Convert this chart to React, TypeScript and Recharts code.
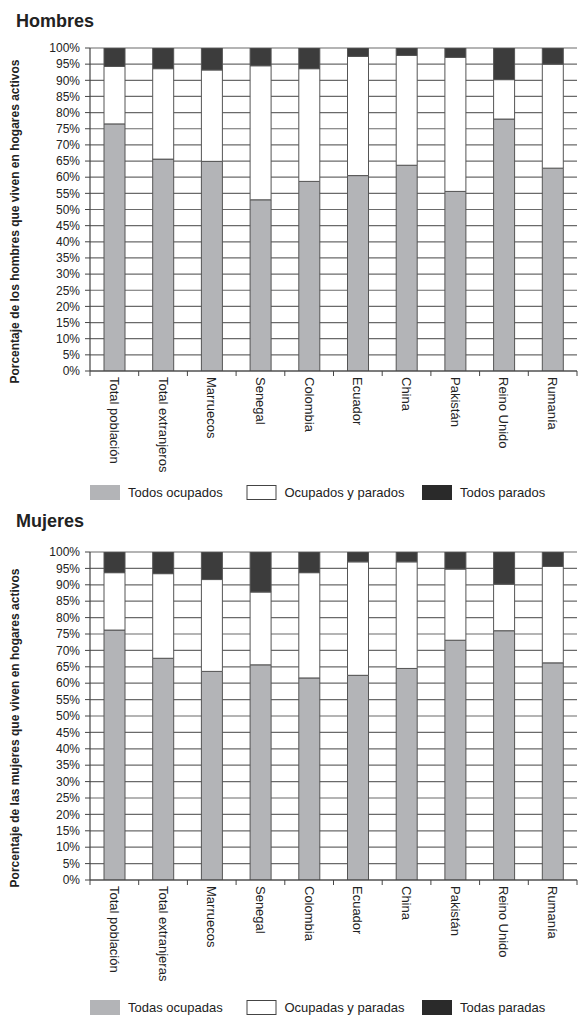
import React from 'react';
import { BarChart, Bar, XAxis, YAxis, CartesianGrid, Label } from 'recharts';

const FONT = '"Liberation Sans", Arial, Helvetica, sans-serif';

// ---------- data ----------
const categoriesHombres = ['Total población', 'Total extranjeros', 'Marruecos', 'Senegal', 'Colombia', 'Ecuador', 'China', 'Pakistán', 'Reino Unido', 'Rumanía'];
const categoriesMujeres = ['Total población', 'Total extranjeras', 'Marruecos', 'Senegal', 'Colombia', 'Ecuador', 'China', 'Pakistán', 'Reino Unido', 'Rumanía'];

const hombresTodosOcupados = [76.5, 65.6, 64.9, 53.0, 58.7, 60.5, 63.7, 55.6, 78.0, 62.8];
const hombresOcupadosParados = [17.8, 28.0, 28.3, 41.5, 34.9, 36.9, 34.0, 41.5, 12.2, 32.2];
const hombresTodosParados = [5.7, 6.4, 6.8, 5.5, 6.4, 2.6, 2.3, 2.9, 9.8, 5.0];

const mujeresTodasOcupadas = [76.2, 67.6, 63.6, 65.6, 61.6, 62.4, 64.5, 73.1, 76.0, 66.2];
const mujeresOcupadasParadas = [17.5, 25.8, 28.0, 22.2, 32.1, 34.6, 32.5, 21.7, 14.2, 29.4];
const mujeresTodasParadas = [6.3, 6.6, 8.4, 12.2, 6.3, 3.0, 3.0, 5.2, 9.8, 4.4];

const yTicks = [0, 5, 10, 15, 20, 25, 30, 35, 40, 45, 50, 55, 60, 65, 70, 75, 80, 85, 90, 95, 100];

const legendHombres = ['Todos ocupados', 'Ocupados y parados', 'Todos parados'];
const legendMujeres = ['Todas ocupadas', 'Ocupadas y paradas', 'Todas paradas'];

// ---------- styles ----------
const BAR_COLORS = ['#b3b4b7', '#ffffff', '#3c3c3c'];
const LEGEND_COLORS = ['#b3b4b7', '#ffffff', '#2a2a2a'];
const LEGEND_X = [90, 246.5, 422];
const PLOT_LEFT = 90;
const PLOT_RIGHT = 577;
const TEXT = '#222';
const LINE = '#444';

type PanelProps = {
  title: string;
  yLabel: string;
  categories: string[];
  a: number[];
  b: number[];
  c: number[];
  names: string[];
  chartHeight: number;
  marginTop: number;
  xAxisHeight: number;
  legendTop: number;
  labelShift: number;
  panelHeight: number;
  top: number;
};

function Panel(p: PanelProps) {
  const data = p.categories.map((name, i) => ({ name, a: p.a[i], b: p.b[i], c: p.c[i] }));
  const band = (PLOT_RIGHT - PLOT_LEFT) / p.categories.length;
  const n = p.categories.length;

  const renderXTick = (props: any) => {
    const { x, y, payload, index } = props;
    const bx = x - band / 2;
    return (
      <g>
        <line x1={bx} x2={bx} y1={y - 6} y2={y - 1} stroke={LINE} strokeWidth={1} />
        {index === n - 1 && (
          <line x1={x + band / 2} x2={x + band / 2} y1={y - 6} y2={y - 1} stroke={LINE} strokeWidth={1} />
        )}
        <text
          x={x}
          y={y}
          transform={`rotate(90 ${x} ${y})`}
          textAnchor="start"
          dominantBaseline="central"
          fontSize={13}
          fontFamily={FONT}
          fill={TEXT}
        >
          {payload.value}
        </text>
      </g>
    );
  };

  const renderYLabel = (lp: any) => {
    const vb = lp.viewBox || { y: p.marginTop, height: 320 };
    const cy = vb.y + vb.height / 2 + p.labelShift;
    return (
      <text
        x={15}
        y={cy}
        transform={`rotate(-90 15 ${cy})`}
        textAnchor="middle"
        dominantBaseline="central"
        fontSize={12}
        fontWeight="bold"
        fontFamily={FONT}
        fill={TEXT}
      >
        {p.yLabel}
      </text>
    );
  };

  return (
    <div style={{ position: 'absolute', left: 0, top: p.top, width: 578, height: p.panelHeight }}>
      <svg width={578} height={40} style={{ position: 'absolute', left: 0, top: 0 }}>
        <text x={16} y={27} fontSize={18} fontWeight="bold" fontFamily={FONT} fill={TEXT}>
          {p.title}
        </text>
      </svg>
      <div style={{ position: 'absolute', left: 0, top: 0 }}>
        <BarChart
          width={578}
          height={p.chartHeight}
          data={data}
          margin={{ top: p.marginTop, right: 1, left: 0, bottom: 0 }}
        >
          <CartesianGrid vertical={false} stroke="#6a6a6a" strokeWidth={1.2} />
          <XAxis
            dataKey="name"
            height={p.xAxisHeight}
            interval={0}
            tickLine={false}
            tickSize={5}
            tickMargin={1}
            axisLine={{ stroke: LINE, strokeWidth: 1.2 }}
            tick={renderXTick}
          />
          <YAxis
            type="number"
            domain={[0, 100]}
            ticks={yTicks}
            interval={0}
            allowDataOverflow
            width={90}
            tickSize={5}
            tickMargin={5}
            tickFormatter={(v: number) => `${v}%`}
            axisLine={{ stroke: LINE, strokeWidth: 1.2 }}
            tickLine={{ stroke: LINE }}
            tick={{ fontSize: 12, fill: TEXT, fontFamily: FONT }}
          >
            <Label content={renderYLabel} />
          </YAxis>
          <Bar dataKey="a" name={p.names[0]} stackId="s" fill={BAR_COLORS[0]} stroke="#555" strokeWidth={1} barSize={21} isAnimationActive={false} />
          <Bar dataKey="b" name={p.names[1]} stackId="s" fill={BAR_COLORS[1]} stroke="#555" strokeWidth={1} barSize={21} isAnimationActive={false} />
          <Bar dataKey="c" name={p.names[2]} stackId="s" fill={BAR_COLORS[2]} stroke="#555" strokeWidth={1} barSize={21} isAnimationActive={false} />
        </BarChart>
      </div>
      <svg width={578} height={16} style={{ position: 'absolute', left: 0, top: p.legendTop }}>
        {p.names.map((name, i) => (
          <g key={name}>
            <rect x={LEGEND_X[i] + 0.5} y={0.5} width={29} height={14} fill={LEGEND_COLORS[i]} stroke={i === 1 ? '#444' : LEGEND_COLORS[i]} strokeWidth={1} />
            <text x={LEGEND_X[i] + 38} y={12} fontSize={13} fontFamily={FONT} fill={TEXT}>
              {name}
            </text>
          </g>
        ))}
      </svg>
    </div>
  );
}

export default function App() {
  return (
    <div style={{ position: 'absolute', left: 0, top: 0, width: 578, height: 1015, background: '#fff', overflow: 'hidden' }}>
      <Panel
        top={0}
        panelHeight={500}
        title="Hombres"
        yLabel="Porcentaje de los hombres que viven en hogares activos"
        categories={categoriesHombres}
        a={hombresTodosOcupados}
        b={hombresOcupadosParados}
        c={hombresTodosParados}
        names={legendHombres}
        chartHeight={480}
        marginTop={48}
        xAxisHeight={109}
        legendTop={485}
        labelShift={12}
      />
      <Panel
        top={500}
        panelHeight={515}
        title="Mujeres"
        yLabel="Porcentaje de las mujeres que viven en hogares activos"
        categories={categoriesMujeres}
        a={mujeresTodasOcupadas}
        b={mujeresOcupadasParadas}
        c={mujeresTodasParadas}
        names={legendMujeres}
        chartHeight={490}
        marginTop={52}
        xAxisHeight={110}
        legendTop={500}
        labelShift={12}
      />
    </div>
  );
}
